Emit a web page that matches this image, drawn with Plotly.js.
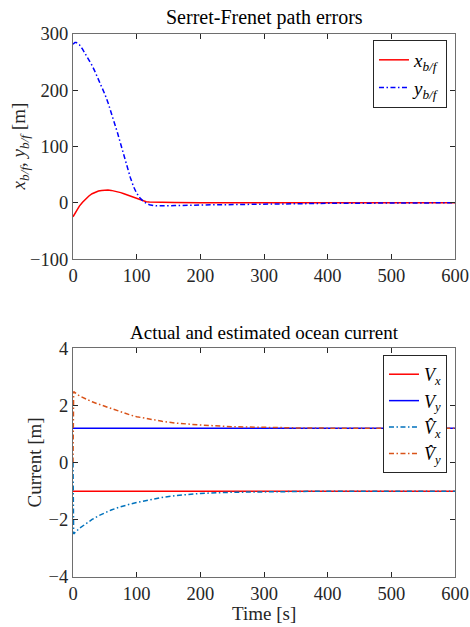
<!DOCTYPE html>
<html><head><meta charset="utf-8">
<script src="https://cdn.plot.ly/plotly-3.0.1.min.js"></script>
<style>html,body{margin:0;padding:0;background:#fff;}</style>
</head><body><div id="chart" style="width:470px;height:627px;"></div>
<script>
// Top panel: Serret-Frenet path errors
const tTop = [0,3,5,10,15,20,25,30,35,40,45,50,55,60,65,70,75,80,85,90,95,100,105,110,115,120,130,140,160,200,250,300,400,500,600];
const xbf  = [-25,-19,-15,-6,1,7,12,16,19,21,22,22.5,22.5,22,21,19.5,18,16,14,11.5,9,7,5,3,2,1.5,1,0.7,0.4,0.1,0,0,0,0,0];
const ybf  = [282,285,285,281,273,264,254,244,232,220,207,193,178,161,143,124,104,84,64,45,29,17,9,3,-1,-3.5,-5.5,-5.5,-5,-4,-3,-2,-1,-0.5,0];
// Bottom panel: actual and estimated ocean current
const tBot = [0,1,10,20,30,40,50,60,70,80,90,100,120,140,160,180,200,250,300,350,400,600];
const VxHat = [0,-2.5,-2.3,-2.13,-1.99,-1.86,-1.75,-1.66,-1.58,-1.51,-1.45,-1.4,-1.3,-1.22,-1.16,-1.11,-1.08,-1.04,-1.02,-1.01,-1.0,-1.0];
const VyHat = [0,2.48,2.33,2.22,2.12,2.04,1.96,1.88,1.81,1.74,1.66,1.6,1.51,1.44,1.38,1.34,1.31,1.25,1.22,1.21,1.2,1.2];
const tConst = [0,600];
const Vx = [-1,-1];
const Vy = [1.2,1.2];
const xTicks = [0,100,200,300,400,500,600];
const yTicksTop = [-100,0,100,200,300];
const yTicksBot = [-4,-2,0,2,4];

const F = 'Liberation Serif, Times New Roman, serif';
const tickFont = {family:F, size:18.5, color:'#262626'};
const axBase = {showline:true, mirror:'ticks', linecolor:'#6e6e6e', linewidth:1, ticks:'inside', ticklen:5, tickcolor:'#262626',
  showgrid:false, zeroline:false, tickfont:tickFont};
const DD = '5px,2.5px,1.5px,2.5px';

const traces = [
  {x:tTop, y:xbf, mode:'lines', line:{color:'#ff0000', width:1.5}, name:'<i>x</i><sub><i>b/f</i></sub>', xaxis:'x', yaxis:'y', legend:'legend'},
  {x:tTop, y:ybf, mode:'lines', line:{color:'#0000ff', width:1.5, dash:DD}, name:'<i>y</i><sub><i>b/f</i></sub>', xaxis:'x', yaxis:'y', legend:'legend'},
  {x:tConst, y:Vx, mode:'lines', line:{color:'#ff0000', width:1.5}, name:'<i>V</i><sub><i>x</i></sub>', xaxis:'x2', yaxis:'y2', legend:'legend2'},
  {x:tConst, y:Vy, mode:'lines', line:{color:'#0000ff', width:1.5}, name:'<i>V</i><sub><i>y</i></sub>', xaxis:'x2', yaxis:'y2', legend:'legend2'},
  {x:tBot, y:VxHat, mode:'lines', line:{color:'#0072BD', width:1.5, dash:DD}, name:'<i>V&#770;</i><sub><i>x</i></sub>', xaxis:'x2', yaxis:'y2', legend:'legend2'},
  {x:tBot, y:VyHat, mode:'lines', line:{color:'#D95319', width:1.5, dash:DD}, name:'<i>V&#770;</i><sub><i>y</i></sub>', xaxis:'x2', yaxis:'y2', legend:'legend2'}
];

const legBase = {bgcolor:'#fff', bordercolor:'#262626', borderwidth:1, font:{family:F, size:19, color:'#000'}, xanchor:'right', yanchor:'top', tracegroupgap:0, itemwidth:30};

const layout = {
  width:470, height:627,
  margin:{l:73, r:15, t:34, b:50},
  paper_bgcolor:'#fff', plot_bgcolor:'#fff',
  showlegend:true,
  xaxis: Object.assign({}, axBase, {domain:[0,1], range:[0,600], tickvals:xTicks, anchor:'y'}),
  yaxis: Object.assign({}, axBase, {domain:[0.5856,1], range:[-100,300], tickvals:yTicksTop, anchor:'x'}),
  xaxis2: Object.assign({}, axBase, {domain:[0,1], range:[0,600], tickvals:xTicks, anchor:'y2'}),
  yaxis2: Object.assign({}, axBase, {domain:[0,0.4217], range:[-4,4], tickvals:yTicksBot, anchor:'x2'}),
  legend: Object.assign({}, legBase, {x:0.979, y:0.989}),
  legend2: Object.assign({}, legBase, {x:0.979, y:0.4088, font:{family:F, size:18, color:'#000'}}),
  annotations:[
    {text:'Serret-Frenet path errors', xref:'paper', yref:'paper', x:0.5, y:1, yshift:3, xanchor:'center', yanchor:'bottom', showarrow:false, font:{family:F, size:20, color:'#000'}},
    {text:'Actual and estimated ocean current', xref:'paper', yref:'paper', x:0.5, y:0.4217, yshift:3, xanchor:'center', yanchor:'bottom', showarrow:false, font:{family:F, size:19, color:'#000'}},
    {text:'<i>x</i><sub><i>b/f</i></sub>, <i>y</i><sub><i>b/f</i></sub> [m]', xref:'paper', yref:'paper', x:0, xshift:-53, y:0.793, textangle:-90, xanchor:'center', yanchor:'middle', showarrow:false, font:{family:F, size:19, color:'#262626'}},
    {text:'Current [m]', xref:'paper', yref:'paper', x:0, xshift:-38, y:0.2108, textangle:-90, xanchor:'center', yanchor:'middle', showarrow:false, font:{family:F, size:19, color:'#262626'}},
    {text:'Time [s]', xref:'paper', yref:'paper', x:0.5, y:0, yshift:-36, xanchor:'center', yanchor:'middle', showarrow:false, font:{family:F, size:19, color:'#262626'}}
  ]
};

Plotly.newPlot('chart', traces, layout, {displayModeBar:false, staticPlot:true});
</script></body></html>
